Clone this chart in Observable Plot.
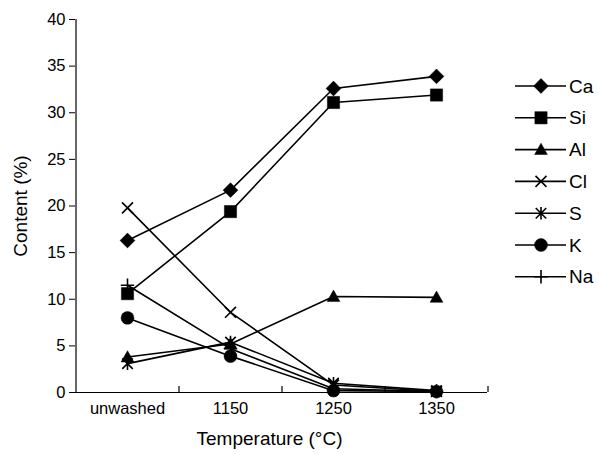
<!DOCTYPE html>
<html>
<head>
<meta charset="utf-8">
<script src="https://cdn.jsdelivr.net/npm/d3@7"></script>
<script src="https://cdn.jsdelivr.net/npm/@observablehq/plot@0.6"></script>
<style>
  html, body { margin: 0; padding: 0; background: #fff; }
  #wrap { position: relative; width: 599px; height: 455px; font-family: "Liberation Sans", Arial, sans-serif; }
  #legend { position: absolute; left: 505px; top: 66px; }
</style>
</head>
<body>
<div id="wrap"><div id="chart"></div><svg id="legend" width="94" height="230"></svg></div>
<script>
// ---- data ----
const temps = ["unwashed", "1150", "1250", "1350"];
const seriesNames = ["Ca", "Si", "Al", "Cl", "S", "K", "Na"];
const Ca = [16.3, 21.7, 32.6, 33.9];
const Si = [10.6, 19.4, 31.1, 31.9];
const Al = [3.8, 5.2, 10.3, 10.2];
const Cl = [19.8, 8.6, 0.8, 0.1];
const S  = [3.1, 5.4, 1.0, 0.2];
const K  = [8.0, 3.9, 0.2, 0.1];
const Na = [11.5, 4.7, 0.4, 0.1];
const yTicks = [0, 5, 10, 15, 20, 25, 30, 35, 40];

const values = {Ca, Si, Al, Cl, S, K, Na};
const rows = seriesNames.flatMap(name => temps.map((t, i) => ({series: name, temp: t, value: values[name][i]})));

// ---- custom symbols ----
const diamond = {draw(ctx, size) { const h = Math.sqrt(size / 2); ctx.moveTo(0, -h); ctx.lineTo(h, 0); ctx.lineTo(0, h); ctx.lineTo(-h, 0); ctx.closePath(); }};
const square = {draw(ctx, size) { const h = Math.sqrt(size) / 2; ctx.rect(-h, -h, 2 * h, 2 * h); }};
const triangle = {draw(ctx, size) { const h = Math.sqrt(size) / 2; ctx.moveTo(0, -h * 1.1); ctx.lineTo(h * 1.1, h * 0.85); ctx.lineTo(-h * 1.1, h * 0.85); ctx.closePath(); }};
const circle = {draw(ctx, size) { const r = Math.sqrt(size / Math.PI); ctx.moveTo(r, 0); ctx.arc(0, 0, r, 0, 2 * Math.PI); }};
const times = {draw(ctx, size) { const h = Math.sqrt(size) / 2; ctx.moveTo(-h, -h); ctx.lineTo(h, h); ctx.moveTo(h, -h); ctx.lineTo(-h, h); }};
const star = {draw(ctx, size) { const h = Math.sqrt(size) / 2; ctx.moveTo(-h, -h); ctx.lineTo(h, h); ctx.moveTo(h, -h); ctx.lineTo(-h, h); ctx.moveTo(0, -h * 1.2); ctx.lineTo(0, h * 1.2); }};
const plus = {draw(ctx, size) { const h = Math.sqrt(size) / 2; ctx.moveTo(0, -h); ctx.lineTo(0, h); ctx.moveTo(-h, 0); ctx.lineTo(h, 0); }};

const style = {
  Ca: {symbol: diamond, size: 110, filled: true},
  Si: {symbol: square, size: 150, filled: true},
  Al: {symbol: triangle, size: 135, filled: true},
  Cl: {symbol: times, size: 120, filled: false},
  S:  {symbol: star, size: 110, filled: false},
  K:  {symbol: circle, size: 130, filled: true},
  Na: {symbol: plus, size: 180, filled: false}
};

const marks = [
  Plot.ruleX([temps[0]], {x: d => d, dx: -51.5, y1: 0, y2: 40, stroke: "black", strokeWidth: 1.2}),
  Plot.ruleY([0], {stroke: "black", strokeWidth: 1.2}),
  Plot.ruleX(temps, {x: d => d, dx: 51.5, y1: 0, y2: 0.65, stroke: "black", strokeWidth: 1.2}),
  Plot.axisY({ticks: yTicks, tickSize: 6, tickPadding: 4, fontSize: 16.5, label: null}),
  Plot.axisX({tickSize: 0, tickPadding: 10, fontSize: 16.5, label: null}),
  Plot.text(["Temperature (°C)"], {frameAnchor: "bottom", dx: -12, dy: 52, fontSize: 19, textAnchor: "middle"}),
  Plot.text(["Content (%)"], {frameAnchor: "left", dx: -55, rotate: -90, fontSize: 19, textAnchor: "middle"}),
  Plot.line(rows, {x: "temp", y: "value", z: "series", stroke: "black", strokeWidth: 1.6})
];
for (const name of seriesNames) {
  const st = style[name];
  const r = Math.sqrt(st.size / Math.PI);
  marks.push(Plot.dot(rows.filter(d => d.series === name), {
    x: "temp", y: "value", symbol: () => st.symbol, r,
    fill: st.filled ? "black" : "none", stroke: "black", strokeWidth: st.filled ? 0.5 : 1.6
  }));
}

const chart = Plot.plot({
  width: 599, height: 455,
  marginLeft: 75, marginRight: 112, marginTop: 19, marginBottom: 63,
  style: {fontFamily: "Liberation Sans, Arial, sans-serif", fontSize: "16.5px", color: "black", background: "white"},
  x: {type: "point", domain: temps, padding: 0.5, axis: null},
  y: {domain: [0, 40], axis: null},
  symbol: {type: "identity"},
  marks
});
document.getElementById("chart").appendChild(chart);

// ---- legend ----
const lg = d3.select("#legend");
seriesNames.forEach((name, i) => {
  const g = lg.append("g").attr("transform", `translate(0, ${20 + i * 31.8})`);
  g.append("line").attr("x1", 10).attr("x2", 61).attr("stroke", "black").attr("stroke-width", 1.6);
  const st = style[name];
  g.append("path").attr("transform", "translate(36,0)")
    .attr("d", d3.symbol(st.symbol, st.size)())
    .attr("fill", st.filled ? "black" : "none").attr("stroke", "black").attr("stroke-width", st.filled ? 0.5 : 1.6);
  g.append("text").attr("x", 64).attr("dy", "0.35em").attr("font-size", 19)
    .attr("font-family", "Liberation Sans, Arial, sans-serif").text(name);
});
</script>
</body>
</html>
